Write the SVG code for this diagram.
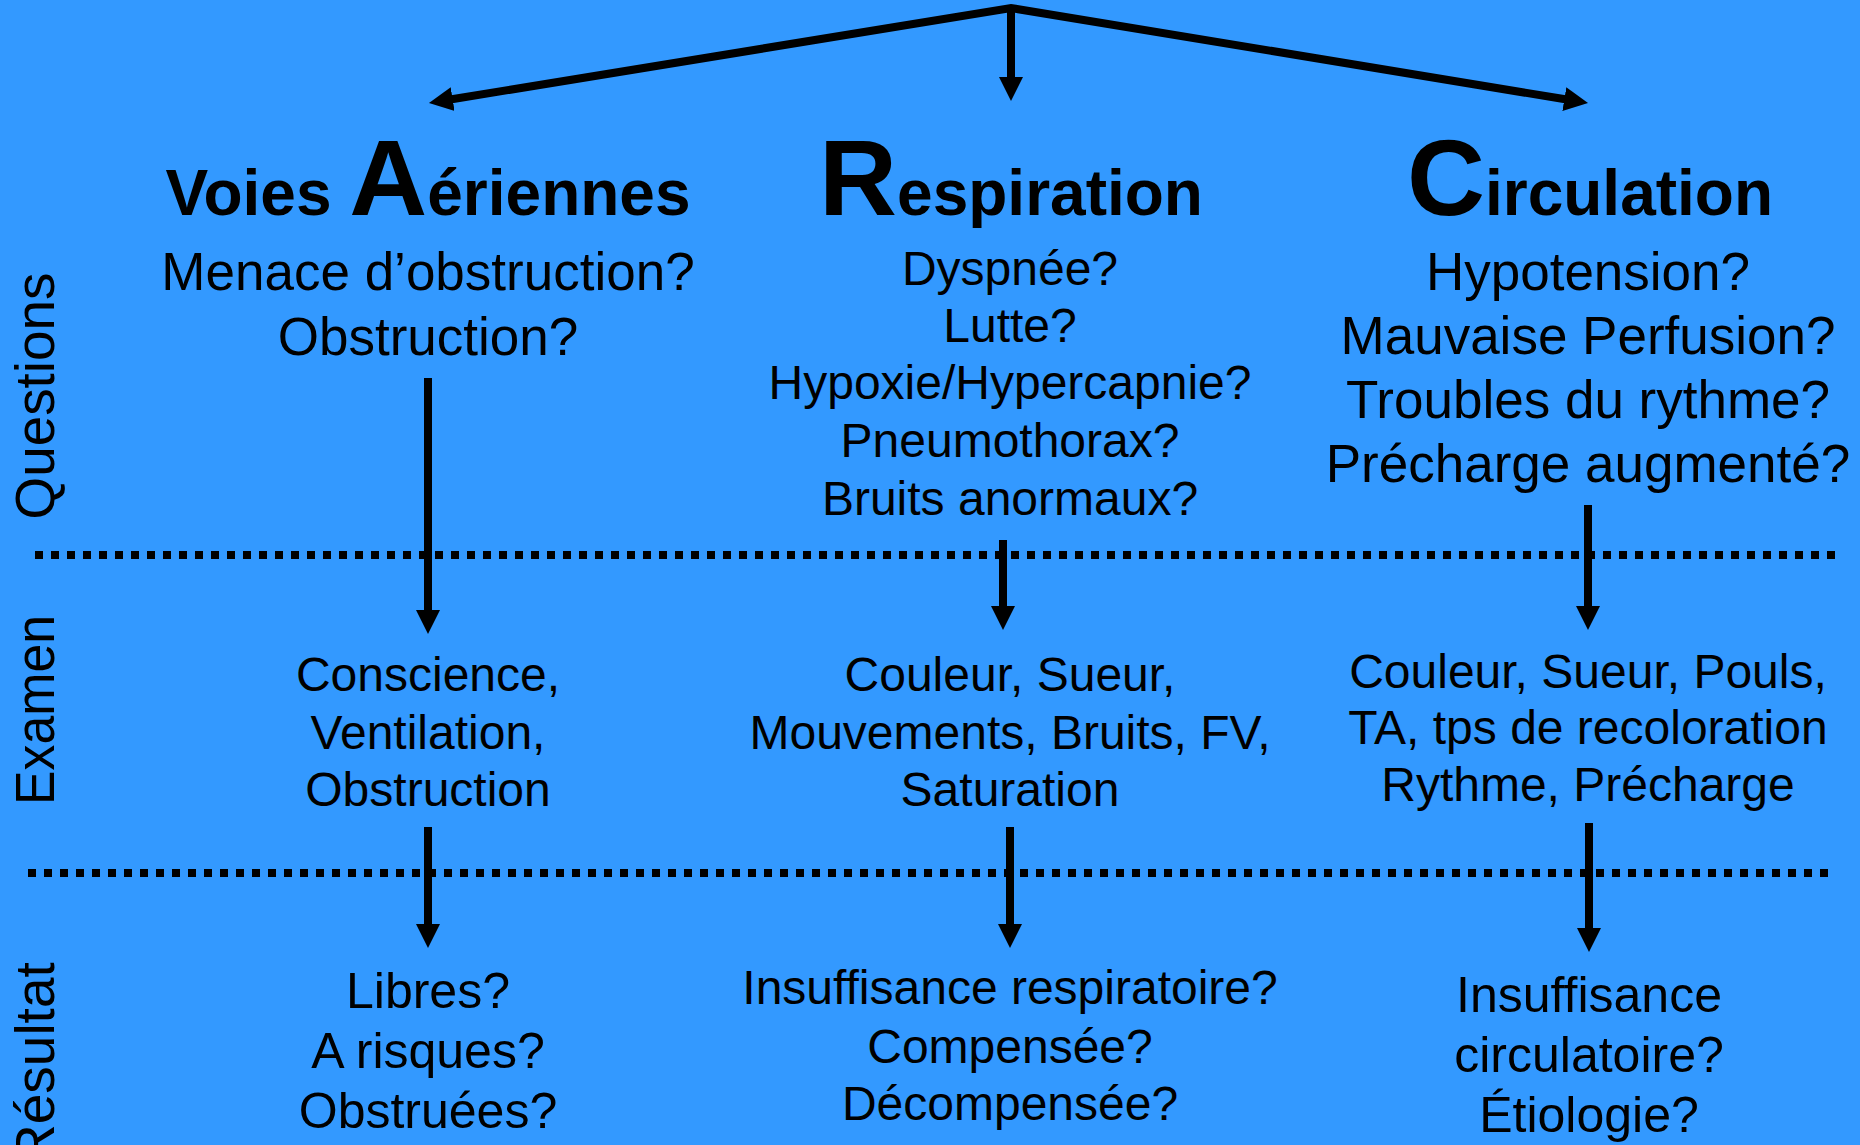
<svg xmlns="http://www.w3.org/2000/svg" width="1860" height="1145" viewBox="0 0 1860 1145">
  <defs>
    <style>
      text { font-family: "Liberation Sans", Arial, sans-serif; fill: #000; text-anchor: middle; }
      .title { font-weight: bold; font-size: 64px; }
      .big { font-size: 108px; }
      .q53 { font-size: 53px; }
      .t48 { font-size: 48px; }
      .t50 { font-size: 50px; }
      .side { font-size: 55px; }
      .link { stroke: #000; stroke-width: 8; fill: none; }
      .divider { stroke: #000; stroke-width: 8; stroke-dasharray: 8 8; fill: none; }
    </style>
    <marker id="head" markerUnits="userSpaceOnUse" markerWidth="24" markerHeight="24" viewBox="0 0 24 24" refX="4" refY="12" orient="auto-start-reverse">
      <path d="M0,0 L24,12 L0,24 z" fill="#000"/>
    </marker>
  </defs>

  <rect x="0" y="0" width="1860" height="1145" fill="#3399ff"/>

  <!-- section dividers -->
  <g id="dividers">
    <line class="divider" x1="35" y1="555" x2="1836" y2="555"/>
    <line class="divider" x1="28" y1="873" x2="1828" y2="873"/>
  </g>

  <!-- row labels -->
  <g id="row-labels">
    <text class="side" transform="translate(54,396) rotate(-90)" textLength="247" lengthAdjust="spacingAndGlyphs">Questions</text>
    <text class="side" transform="translate(54,710) rotate(-90)" textLength="190" lengthAdjust="spacingAndGlyphs">Examen</text>
    <text class="side" style="text-anchor:start" transform="translate(54,1164) rotate(-90)">Résultat</text>
  </g>

  <!-- connectors -->
  <g id="connectors">
    <path class="link" d="M448.7,99.8 L1011,8 L1568.3,99.8" marker-start="url(#head)" marker-end="url(#head)"/>
    <line class="link" x1="1011" y1="8" x2="1011" y2="81" marker-end="url(#head)"/>
    <line class="link" x1="428" y1="378" x2="428" y2="614" marker-end="url(#head)"/>
    <line class="link" x1="1003" y1="540" x2="1003" y2="610" marker-end="url(#head)"/>
    <line class="link" x1="1588" y1="505" x2="1588" y2="610" marker-end="url(#head)"/>
    <line class="link" x1="428" y1="827" x2="428" y2="928" marker-end="url(#head)"/>
    <line class="link" x1="1010" y1="827" x2="1010" y2="928" marker-end="url(#head)"/>
    <line class="link" x1="1589" y1="823" x2="1589" y2="932" marker-end="url(#head)"/>
  </g>

  <!-- Voies Aériennes column -->
  <g id="airway-title">
    <text class="title" x="428" y="215">Voies <tspan class="big">A</tspan>ériennes</text>
  </g>
  <g id="airway-questions">
    <text class="q53" x="428" y="290">Menace d’obstruction?</text>
    <text class="q53" x="428" y="355">Obstruction?</text>
  </g>
  <g id="airway-exam">
    <text class="t48" x="428" y="691">Conscience,</text>
    <text class="t48" x="428" y="749">Ventilation,</text>
    <text class="t48" x="428" y="806">Obstruction</text>
  </g>
  <g id="airway-result">
    <text class="t50" x="428" y="1008">Libres?</text>
    <text class="t50" x="428" y="1068">A risques?</text>
    <text class="t50" x="428" y="1128">Obstruées?</text>
  </g>

  <!-- Respiration column -->
  <g id="breathing-title">
    <text class="title" x="1011" y="215"><tspan class="big">R</tspan>espiration</text>
  </g>
  <g id="breathing-questions">
    <text class="t48" x="1010" y="285">Dyspnée?</text>
    <text class="t48" x="1010" y="342">Lutte?</text>
    <text class="t48" x="1010" y="399">Hypoxie/Hypercapnie?</text>
    <text class="t48" x="1010" y="457">Pneumothorax?</text>
    <text class="t48" x="1010" y="515">Bruits anormaux?</text>
  </g>
  <g id="breathing-exam">
    <text class="t48" x="1010" y="691">Couleur, Sueur,</text>
    <text class="t48" x="1010" y="749">Mouvements, Bruits, FV,</text>
    <text class="t48" x="1010" y="806">Saturation</text>
  </g>
  <g id="breathing-result">
    <text class="t48" x="1010" y="1004">Insuffisance respiratoire?</text>
    <text class="t48" x="1010" y="1063">Compensée?</text>
    <text class="t48" x="1010" y="1120">Décompensée?</text>
  </g>

  <!-- Circulation column -->
  <g id="circulation-title">
    <text class="title" x="1590" y="215"><tspan class="big">C</tspan>irculation</text>
  </g>
  <g id="circulation-questions">
    <text class="q53" x="1588" y="290">Hypotension?</text>
    <text class="q53" x="1588" y="354">Mauvaise Perfusion?</text>
    <text class="q53" x="1588" y="418">Troubles du rythme?</text>
    <text class="q53" x="1588" y="482">Précharge augmenté?</text>
  </g>
  <g id="circulation-exam">
    <text class="t48" x="1588" y="688">Couleur, Sueur, Pouls,</text>
    <text class="t48" x="1588" y="744">TA, tps de recoloration</text>
    <text class="t48" x="1588" y="801">Rythme, Précharge</text>
  </g>
  <g id="circulation-result">
    <text class="t50" x="1589" y="1012">Insuffisance</text>
    <text class="t50" x="1589" y="1072">circulatoire?</text>
    <text class="t50" x="1589" y="1132">Étiologie?</text>
  </g>
</svg>
